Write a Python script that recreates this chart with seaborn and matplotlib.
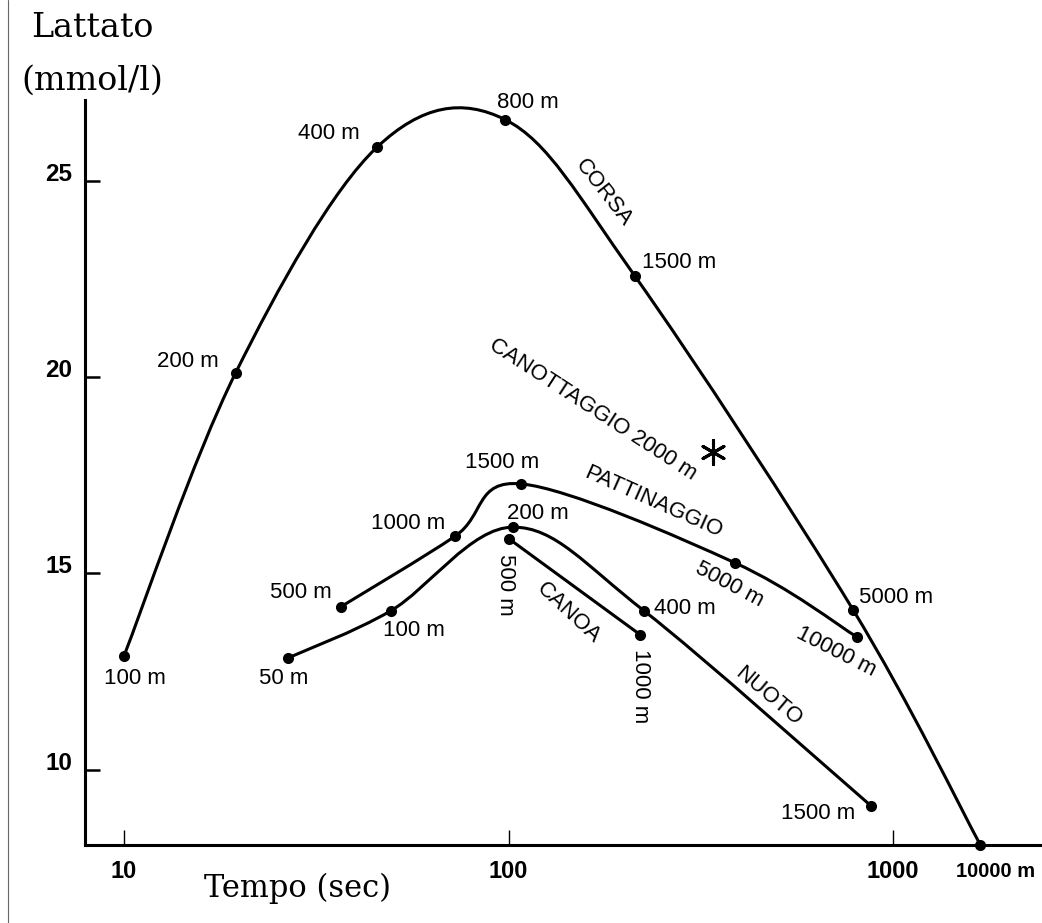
import numpy as np
import pandas as pd
import matplotlib
matplotlib.use("Agg")
import matplotlib.pyplot as plt
import seaborn as sns
from matplotlib.path import Path
from matplotlib.patches import PathPatch
from matplotlib.ticker import FixedLocator, NullLocator, FixedFormatter

# ---------------- data ----------------
corsa_dist = ["100 m", "200 m", "400 m", "800 m", "1500 m", "5000 m", "10000 m"]
corsa_time = [10, 19.5, 45.5, 98, 213, 787, 1683]
corsa_lact = [12.9, 20.1, 25.85, 26.55, 22.57, 14.07, 8.1]

patt_dist = ["500 m", "1000 m", "1500 m", "5000 m", "10000 m"]
patt_time = [36.6, 72.6, 108, 388, 806]
patt_lact = [14.15, 15.95, 17.28, 15.27, 13.38]

nuoto_dist = ["50 m", "100 m", "200 m", "400 m", "1500 m"]
nuoto_time = [26.7, 49.4, 102.8, 225, 877]
nuoto_lact = [12.85, 14.05, 16.18, 14.05, 9.08]

canoa_dist = ["500 m", "1000 m"]
canoa_time = [100.3, 220]
canoa_lact = [15.88, 13.44]

canott_time = [340]
canott_lact = [18.09]

x_ticks = [10, 100, 1000]
x_tick_labels = ["10", "100", "1000"]
y_ticks = [10, 15, 20, 25]
y_tick_labels = ["10", "15", "20", "25"]

# ---------------- style ----------------
sns.set_style("white")
plt.rcParams["font.family"] = ["Liberation Sans", "DejaVu Sans"]
plt.rcParams["text.color"] = "black"
plt.rcParams["axes.labelcolor"] = "black"
plt.rcParams["xtick.color"] = "black"
plt.rcParams["ytick.color"] = "black"

fig = plt.figure(figsize=(10.42, 9.23), dpi=100)
ax = fig.add_axes([85 / 1042, 1 - 845 / 923, 1 - 85 / 1042, (845 - 100) / 923])
ax.set_xscale("log")
ax.set_xlim(7.92, 2437)
ax.set_ylim(8.09, 27.05)

frames = []
for name, t, l, d in [("Corsa", corsa_time, corsa_lact, corsa_dist),
                      ("Pattinaggio", patt_time, patt_lact, patt_dist),
                      ("Nuoto", nuoto_time, nuoto_lact, nuoto_dist),
                      ("Canoa", canoa_time, canoa_lact, canoa_dist)]:
    frames.append(pd.DataFrame({"sport": name, "tempo": t, "lattato": l, "dist": d}))
df = pd.concat(frames, ignore_index=True)


def smooth_path(xs, ys):
    pts = np.column_stack([np.log10(xs), np.asarray(ys, float)])
    n = len(pts)
    if n == 2:
        verts = pts.copy()
        codes = [Path.MOVETO, Path.LINETO]
    else:
        ext = np.vstack([pts[0], pts, pts[-1]])
        verts = [pts[0]]
        codes = [Path.MOVETO]
        for i in range(n - 1):
            p0, p1, p2, p3 = ext[i], ext[i + 1], ext[i + 2], ext[i + 3]
            c1 = p1 + (p2 - p0) / 6.0
            c2 = p2 - (p3 - p1) / 6.0
            verts += [c1, c2, p2]
            codes += [Path.CURVE4] * 3
        verts = np.array(verts)
    verts[:, 0] = 10 ** verts[:, 0]
    return Path(verts, codes)


for name, g in df.groupby("sport", sort=False):
    patch = PathPatch(smooth_path(g["tempo"].values, g["lattato"].values),
                      facecolor="none", edgecolor="black", lw=2.2,
                      capstyle="round", joinstyle="round", zorder=2)
    ax.add_patch(patch)

sns.scatterplot(data=df, x="tempo", y="lattato", color="black", s=64,
                edgecolor="black", linewidth=0, zorder=3, ax=ax,
                legend=False, clip_on=False)

ax.scatter(canott_time, canott_lact, marker=(6, 2, 0), s=300, color="black",
           linewidths=2.2, zorder=3)

# ---------------- point labels ----------------
fs = 16
px = 0.72  # pixel -> points


def lab(x, y, text, dx, dy, rot=0, **kw):
    ax.annotate(text, (x, y), xytext=(dx * px, dy * px), textcoords="offset points",
                ha="center", va="center", rotation=rot, rotation_mode="anchor",
                fontsize=kw.pop("fontsize", fs), color="black", **kw)


corsa_off = [(11, -23), (-48, 12), (-48, 14), (23, 17), (44, 14), (43, 13), (15, -27)]
for t, l, d, (dx, dy) in zip(corsa_time, corsa_lact, corsa_dist, corsa_off):
    if d == "10000 m":
        lab(t, l, d, dx, dy, fontsize=14.5, fontweight="bold")
    else:
        lab(t, l, d, dx, dy)

patt_off = [(-40, 14, 0), (-47, 13, 0), (-19, 21, 0), (-6, -22, -28), (-21, -15, -27)]
for t, l, d, (dx, dy, r) in zip(patt_time, patt_lact, patt_dist, patt_off):
    lab(t, l, d, dx, dy, r)

nuoto_off = [(-4, -21), (23, -20), (25, 14), (41, 2), (-53, -7)]
for t, l, d, (dx, dy) in zip(nuoto_time, nuoto_lact, nuoto_dist, nuoto_off):
    lab(t, l, d, dx, dy)

canoa_off = [(-4, -46), (0, -51)]
for t, l, d, (dx, dy) in zip(canoa_time, canoa_lact, canoa_dist, canoa_off):
    lab(t, l, d, dx, dy, -90)

# curve names
for txt, x, y, r in [("CORSA", 177, 24.68, -52),
                     ("CANOTTAGGIO 2000 m", 166, 19.16, -33),
                     ("PATTINAGGIO", 238, 16.82, -24),
                     ("NUOTO", 473, 11.88, -40),
                     ("CANOA", 143, 14.0, -43)]:
    ax.text(x, y, txt, ha="center", va="center", rotation=r,
            rotation_mode="anchor", fontsize=fs, color="black")

# ---------------- axes ----------------
for s in ["top", "right"]:
    ax.spines[s].set_visible(False)
for s in ["left", "bottom"]:
    ax.spines[s].set_linewidth(2.2)
    ax.spines[s].set_color("black")

ax.xaxis.set_major_locator(FixedLocator(x_ticks))
ax.xaxis.set_major_formatter(FixedFormatter(x_tick_labels))
ax.xaxis.set_minor_locator(NullLocator())
ax.yaxis.set_major_locator(FixedLocator(y_ticks))
ax.yaxis.set_major_formatter(FixedFormatter(y_tick_labels))
ax.yaxis.set_minor_locator(NullLocator())

ax.tick_params(axis="x", which="major", bottom=True, direction="in", length=11,
               width=1.0, pad=11, labelsize=17, colors="black")
ax.tick_params(axis="y", which="major", left=True, direction="in", length=11,
               width=1.8, pad=9, labelsize=17.5, colors="black")
for t in ax.get_xticklabels() + ax.get_yticklabels():
    t.set_fontweight("bold")
for t in ax.get_yticklabels():
    t.set_va("baseline")

ax.set_xlabel("")
ax.set_ylabel("")

fig.text(92 / 1042, 1 - 28 / 923, "Lattato", family="DejaVu Serif", fontsize=24,
         ha="center", va="center", color="black")
fig.text(92 / 1042, 1 - 81 / 923, "(mmol/l)", family="DejaVu Serif", fontsize=24,
         ha="center", va="center", color="black")
fig.text(298 / 1042, 1 - 888 / 923, "Tempo (sec)", family="DejaVu Serif", fontsize=22,
         ha="center", va="center", color="black")

# scan border line at the left edge
fig.add_artist(plt.Line2D([8 / 1042, 8 / 1042], [0, 1], color="#666666", lw=0.8))

fig.savefig("out.png", dpi=100)
